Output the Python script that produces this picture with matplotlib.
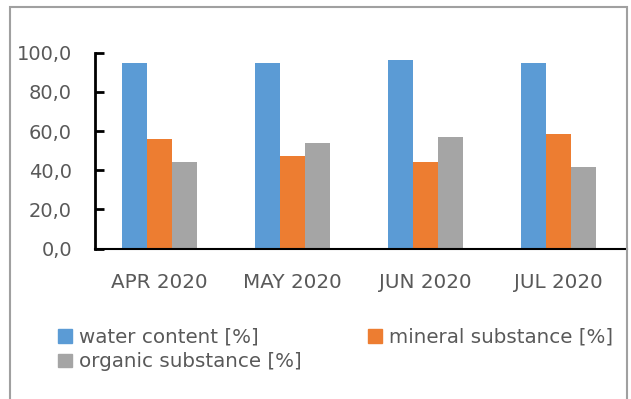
import matplotlib
matplotlib.use('Agg')
import matplotlib.pyplot as plt
from matplotlib.patches import Rectangle, Patch
from matplotlib.ticker import FuncFormatter
import numpy as np

# monthly composition of the sampled material
months = ['APR 2020', 'MAY 2020', 'JUN 2020', 'JUL 2020']
water = [94.9, 94.9, 96.3, 94.9]
mineral = [55.9, 47.2, 44.1, 58.6]
organic = [44.1, 54.0, 57.1, 41.4]

series_names = ['water content [%]', 'mineral substance [%]', 'organic substance [%]']
series_colors = ['#5B9BD5', '#ED7D31', '#A5A5A5']
y_ticks = [0, 20, 40, 60, 80, 100]

TEXT = '#595959'
W, H, DPI = 631, 399, 100

plt.rcParams['font.family'] = 'DejaVu Sans'

fig = plt.figure(figsize=(W / DPI, H / DPI), dpi=DPI)
ax = fig.add_axes([95 / W, 1 - 248.5 / H, (627 - 95) / W, (248.5 - 52.7) / H])

x = np.arange(len(months))
bw = 0.19
for i, (vals, name, col) in enumerate(zip([water, mineral, organic], series_names, series_colors)):
    ax.bar(x + (i - 1) * bw - 0.015, vals, width=bw, color=col, label=name, zorder=2)

ax.set_xlim(-0.5, len(months) - 0.5)
ax.set_ylim(0, 100)
ax.set_yticks(y_ticks)
ax.yaxis.set_major_formatter(FuncFormatter(lambda v, _: f'{v:.1f}'.replace('.', ',')))
ax.set_xticks(x - 0.015)
ax.set_xticklabels(months)

for s in ['top', 'right']:
    ax.spines[s].set_visible(False)
ax.spines['left'].set_linewidth(2)
ax.spines['bottom'].set_linewidth(1.5)

ax.tick_params(axis='y', direction='in', length=6.5, width=2, pad=16.5,
               labelsize=14, labelcolor=TEXT)
ax.tick_params(axis='x', length=0, pad=17.5, labelsize=14.3, labelcolor=TEXT)

# legend: water / mineral on the first row, organic below
handles = [Patch(color=c) for c in series_colors]
order = [0, 2, 1]
fig.legend([handles[i] for i in order], [series_names[i] for i in order],
           loc='upper left', bbox_to_anchor=(48 / W, 1 - 318 / H), ncol=2,
           frameon=False, fontsize=14.3, labelcolor=TEXT, borderpad=0,
           handlelength=0.7, handleheight=0.7, handletextpad=0.35,
           columnspacing=3.35, labelspacing=0.28)

# chart-area border
fig.patches.append(Rectangle((10 / W, -0.05), (627 - 10) / W, 1.05 - 7 / H,
                             transform=fig.transFigure, fill=False,
                             edgecolor='#a0a0a0', linewidth=1.5))

fig.savefig('out.png', dpi=DPI)
